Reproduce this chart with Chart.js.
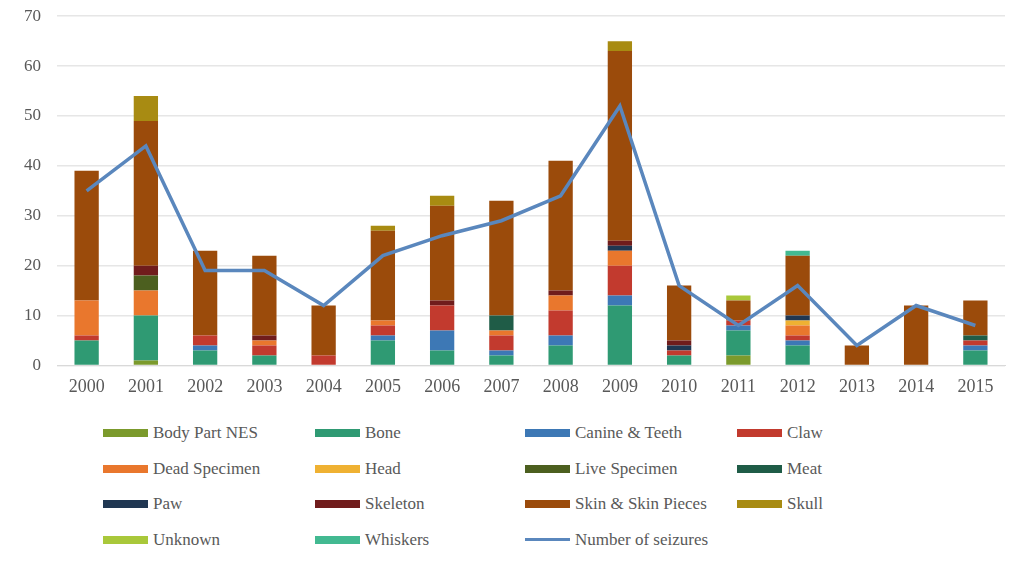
<!DOCTYPE html>
<html>
<head>
<meta charset="utf-8">
<script src="https://cdn.jsdelivr.net/npm/chart.js@4"></script>
<style>
  html, body { margin: 0; padding: 0; background: #fff; }
  #wrap { position: relative; width: 1018px; height: 566px; overflow: hidden; }
  #chart-box { position: absolute; left: 0; top: -10px; width: 1018px; height: 411px; }
  #legend {
    position: absolute; left: 103px; top: 421px; width: 900px;
    display: grid; grid-template-columns: 212px 210px 212px 240px;
    grid-auto-rows: 35.5px;
    font-family: "Liberation Serif", "DejaVu Serif", serif;
    font-size: 17px; color: #595959;
  }
  .item { display: flex; align-items: center; height: 24px; white-space: nowrap; }
  .sw { width: 45px; height: 8px; margin-right: 5px; flex: none; }
  .ln { width: 45px; height: 3px; margin-right: 5px; flex: none; }
</style>
</head>
<body>
<div id="wrap">
  <div id="chart-box"><canvas id="c"></canvas></div>
  <div id="legend"></div>
</div>
<script>
const years = ['2000','2001','2002','2003','2004','2005','2006','2007','2008','2009','2010','2011','2012','2013','2014','2015'];

const bodyPartNES   = [0, 1, 0, 0, 0, 0, 0, 0, 0, 0, 0, 2, 0, 0, 0, 0];
const bone          = [5, 9, 3, 2, 0, 5, 3, 2, 4, 12, 2, 5, 4, 0, 0, 3];
const canineTeeth   = [0, 0, 1, 0, 0, 1, 4, 1, 2, 2, 0, 1, 1, 0, 0, 1];
const claw          = [1, 0, 2, 2, 2, 2, 5, 3, 5, 6, 1, 1, 1, 0, 0, 1];
const deadSpecimen  = [7, 5, 0, 1, 0, 1, 0, 1, 3, 3, 0, 0, 2, 0, 0, 0];
const head          = [0, 0, 0, 0, 0, 0, 0, 0, 0, 0, 0, 0, 1, 0, 0, 0];
const liveSpecimen  = [0, 3, 0, 0, 0, 0, 0, 0, 0, 0, 0, 0, 0, 0, 0, 0];
const meat          = [0, 0, 0, 0, 0, 0, 0, 3, 0, 0, 0, 0, 0, 0, 0, 1];
const paw           = [0, 0, 0, 0, 0, 0, 0, 0, 0, 1, 1, 0, 1, 0, 0, 0];
const skeleton      = [0, 2, 0, 1, 0, 0, 1, 0, 1, 1, 1, 0, 0, 0, 0, 0];
const skinPieces    = [26, 29, 17, 16, 10, 18, 19, 23, 26, 38, 11, 4, 12, 4, 12, 7];
const skull         = [0, 5, 0, 0, 0, 1, 2, 0, 0, 2, 0, 0, 0, 0, 0, 0];
const unknown       = [0, 0, 0, 0, 0, 0, 0, 0, 0, 0, 0, 1, 0, 0, 0, 0];
const whiskers      = [0, 0, 0, 0, 0, 0, 0, 0, 0, 0, 0, 0, 1, 0, 0, 0];
const seizures      = [35, 44, 19, 19, 12, 22, 26, 29, 34, 52, 16, 8, 16, 4, 12, 8];

const yTicks = [0, 10, 20, 30, 40, 50, 60, 70];

const barSeries = [
  ['Body Part NES', bodyPartNES, '#7b9a2c'],
  ['Bone', bone, '#2f9a73'],
  ['Canine & Teeth', canineTeeth, '#3d78b5'],
  ['Claw', claw, '#c23a2e'],
  ['Dead Specimen', deadSpecimen, '#e9772d'],
  ['Head', head, '#efb132'],
  ['Live Specimen', liveSpecimen, '#4c5f1f'],
  ['Meat', meat, '#1f5c47'],
  ['Paw', paw, '#203752'],
  ['Skeleton', skeleton, '#701c1c'],
  ['Skin & Skin Pieces', skinPieces, '#9b4b0b'],
  ['Skull', skull, '#a88b12'],
  ['Unknown', unknown, '#a9c83a'],
  ['Whiskers', whiskers, '#42b991']
];

const datasets = barSeries.map(([label, data, color]) => ({
  type: 'bar',
  label: label,
  data: data,
  backgroundColor: color,
  stack: 's',
  order: 2,
  categoryPercentage: 1,
  barPercentage: 0.41
}));

datasets.push({
  type: 'line',
  label: 'Number of seizures',
  data: seizures,
  borderColor: '#5a87bd',
  backgroundColor: '#5a87bd',
  borderWidth: 3.5,
  pointRadius: 0,
  tension: 0,
  order: 1
});

const fontFam = '"Liberation Serif", "DejaVu Serif", serif';

new Chart(document.getElementById('c'), {
  data: { labels: years, datasets: datasets },
  options: {
    responsive: true,
    maintainAspectRatio: false,
    animation: false,
    layout: { padding: { left: 8, right: 13, top: 0, bottom: 0 } },
    plugins: {
      legend: { display: false },
      tooltip: { enabled: false }
    },
    scales: {
      x: {
        stacked: true,
        offset: true,
        grid: { display: false },
        border: { display: true, color: '#d9d9d9' },
        ticks: { color: '#595959', font: { family: fontFam, size: 18 }, padding: 3, maxRotation: 0 }
      },
      y: {
        stacked: true,
        min: 0,
        max: 70,
        afterBuildTicks: axis => { axis.ticks = yTicks.map(v => ({ value: v })); },
        grid: { color: '#e6e6e6', lineWidth: 1.5, drawTicks: false },
        border: { display: false },
        ticks: { color: '#595959', font: { family: fontFam, size: 17 }, padding: 16 }
      }
    }
  }
});

// HTML legend, four columns like the original
const legend = document.getElementById('legend');
barSeries.forEach(([label, , color]) => {
  const d = document.createElement('div');
  d.className = 'item';
  d.innerHTML = '<span class="sw" style="background:' + color + '"></span>' + label.replace('&', '&amp;');
  legend.appendChild(d);
});
const li = document.createElement('div');
li.className = 'item';
li.innerHTML = '<span class="ln" style="background:#5a87bd"></span>Number of seizures';
legend.appendChild(li);
</script>
</body>
</html>
